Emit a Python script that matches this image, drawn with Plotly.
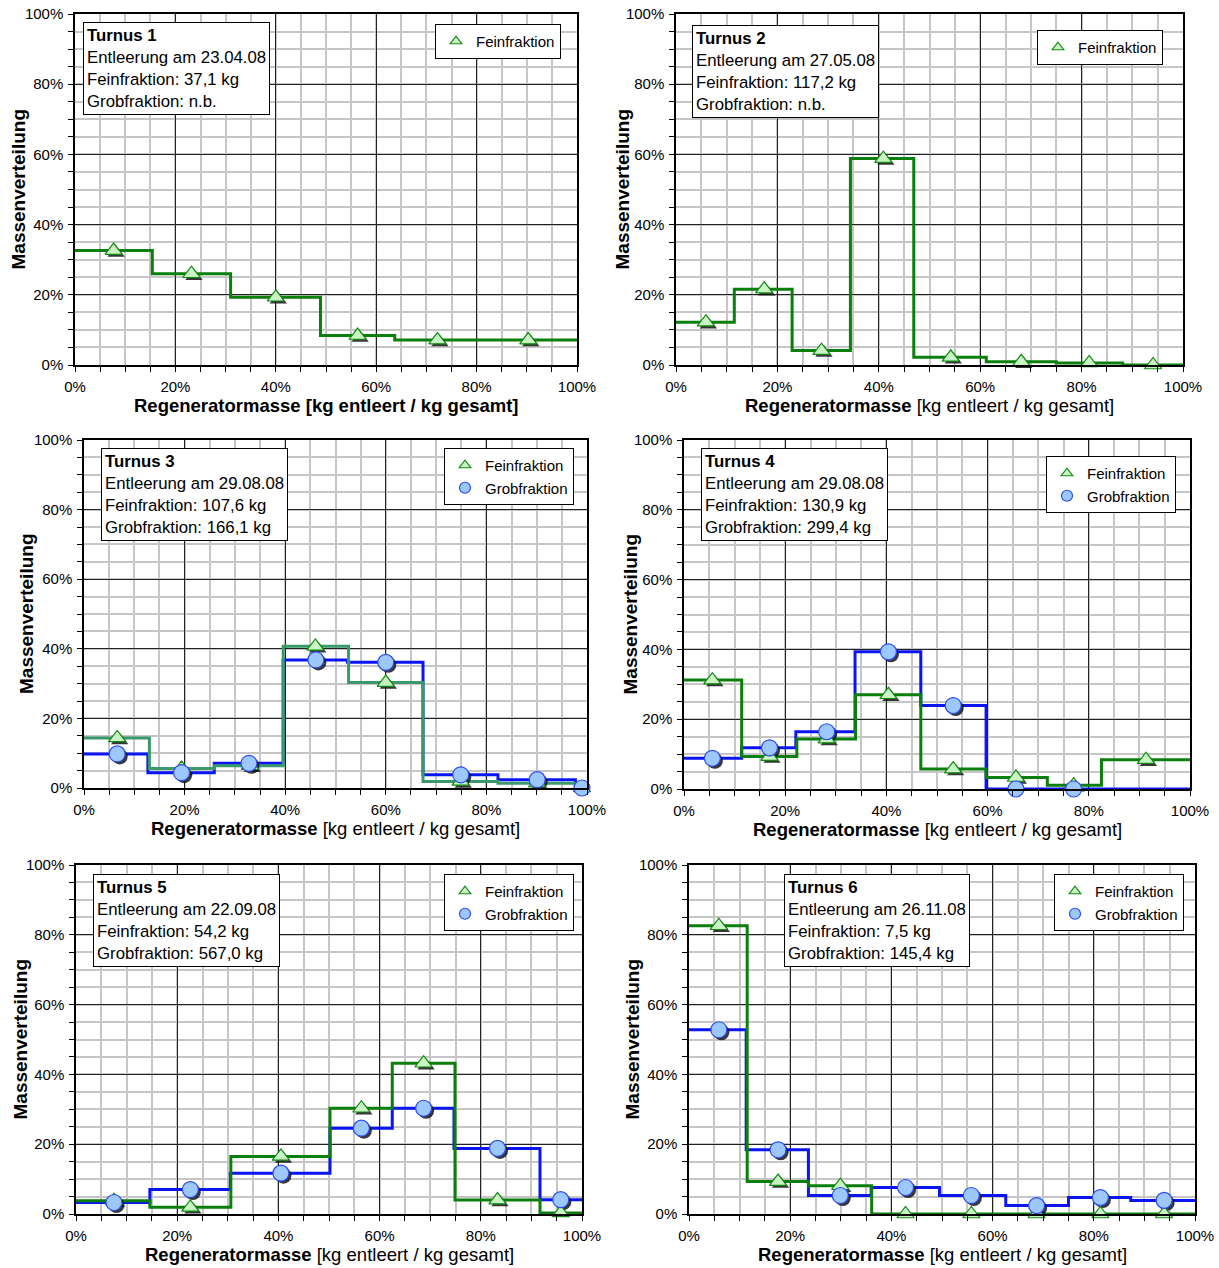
import plotly.graph_objects as go

# ---------------- data ----------------
X_TICKS = [0, 20, 40, 60, 80, 100]
X_TICKTEXT = ["0%", "20%", "40%", "60%", "80%", "100%"]
Y_TICKS = [0, 20, 40, 60, 80, 100]
Y_TICKTEXT = ["0%", "20%", "40%", "60%", "80%", "100%"]

TURNUS = ["Turnus 1", "Turnus 2", "Turnus 3", "Turnus 4", "Turnus 5", "Turnus 6"]
DATES = ["23.04.08", "27.05.08", "29.08.08", "29.08.08", "22.09.08", "26.11.08"]
FEIN_KG = ["37,1 kg", "117,2 kg", "107,6 kg", "130,9 kg", "54,2 kg", "7,5 kg"]
GROB_KG = ["n.b.", "n.b.", "166,1 kg", "299,4 kg", "567,0 kg", "145,4 kg"]

SERIES_FEIN = "Feinfraktion"
SERIES_GROB = "Grobfraktion"
X_TITLE_BOLD = "Regeneratormasse"
X_TITLE_REST = "[kg entleert / kg gesamt]"
Y_TITLE = "Massenverteilung"

# Turnus 1
T1_FEIN_EDGES = [0, 15.4, 31.0, 48.9, 63.7, 80.7, 100]
T1_FEIN_VALUES = [32.6, 26.0, 19.3, 8.4, 7.1, 7.1]
T1_FEIN_MX = [7.7, 23.2, 40.0, 56.3, 72.2, 90.3]
T1_FEIN_MY = [32.6, 26.0, 19.3, 8.4, 7.1, 7.1]

# Turnus 2
T2_FEIN_EDGES = [0, 11.5, 22.9, 34.4, 46.9, 61.2, 75.0, 88.1, 100]
T2_FEIN_VALUES = [12.2, 21.6, 4.1, 58.8, 2.2, 0.9, 0.6, 0.0]
T2_FEIN_MX = [5.9, 17.4, 28.7, 40.9, 54.2, 68.1, 81.5, 94.1]
T2_FEIN_MY = [12.2, 21.6, 4.1, 58.8, 2.2, 0.9, 0.6, 0.0]

# Turnus 3
T3_FEIN_EDGES = [0, 13.0, 25.9, 39.6, 52.6, 67.4, 82.3, 97.7, 100]
T3_FEIN_VALUES = [14.4, 5.6, 6.4, 40.7, 30.3, 1.9, 1.4, 0.0]
T3_FEIN_MX = [6.6, 19.4, 33.0, 46.0, 60.0, 74.9, 90.1, 99.0]
T3_FEIN_MY = [14.4, 5.6, 6.4, 40.7, 30.3, 1.9, 1.4, 0.0]
T3_GROB_EDGES = [0, 12.7, 25.9, 39.6, 52.4, 67.4, 82.3, 97.7, 100]
T3_GROB_VALUES = [9.8, 4.4, 7.1, 36.8, 36.1, 3.8, 2.4, 0.0]
T3_GROB_MX = [6.6, 19.4, 32.8, 46.1, 60.0, 74.9, 90.1, 99.0]
T3_GROB_MY = [9.8, 4.4, 7.1, 36.8, 36.1, 3.8, 2.4, 0.0]

# Turnus 4
T4_FEIN_EDGES = [0, 11.4, 22.3, 33.9, 46.8, 59.7, 71.8, 82.5, 100]
T4_FEIN_VALUES = [31.2, 9.3, 14.3, 27.0, 5.7, 3.3, 1.1, 8.4]
T4_FEIN_MX = [5.6, 16.9, 28.2, 40.4, 53.2, 65.6, 77.0, 91.3]
T4_FEIN_MY = [31.2, 9.3, 14.3, 27.0, 5.7, 3.3, 1.1, 8.4]
T4_GROB_EDGES = [0, 11.4, 22.1, 33.8, 46.8, 59.7, 71.8, 82.5, 100]
T4_GROB_VALUES = [8.8, 11.8, 16.4, 39.3, 23.9, 0.0, 0.0, 0.0]
T4_GROB_MX = [5.6, 16.9, 28.2, 40.4, 53.2, 65.6, 77.0]
T4_GROB_MY = [8.8, 11.8, 16.4, 39.3, 23.9, 0.0, 0.0]

# Turnus 5
T5_FEIN_EDGES = [0, 14.6, 30.6, 50.2, 62.5, 74.9, 91.7, 100]
T5_FEIN_VALUES = [3.8, 1.9, 16.5, 30.3, 43.2, 4.0, 0.3]
T5_FEIN_MX = [7.5, 22.6, 40.5, 56.4, 68.7, 83.3, 95.8]
T5_FEIN_MY = [3.8, 1.9, 16.5, 30.3, 43.2, 4.0, 0.3]
T5_GROB_EDGES = [0, 14.6, 30.5, 50.2, 62.5, 74.7, 91.7, 100]
T5_GROB_VALUES = [3.3, 7.0, 11.7, 24.6, 30.3, 18.8, 4.1]
T5_GROB_MX = [7.5, 22.6, 40.5, 56.4, 68.7, 83.3, 95.8]
T5_GROB_MY = [3.3, 7.0, 11.7, 24.6, 30.3, 18.8, 4.1]

# Turnus 6
T6_FEIN_EDGES = [0, 11.5, 23.6, 36.1, 49.5, 62.6, 75.0, 87.3, 100]
T6_FEIN_VALUES = [82.6, 9.3, 8.1, 0.0, 0.0, 0.0, 0.0, 0.0]
T6_FEIN_MX = [5.9, 17.6, 29.9, 42.8, 55.8, 68.7, 81.3, 93.9]
T6_FEIN_MY = [82.6, 9.3, 8.1, 0.0, 0.0, 0.0, 0.0, 0.0]
T6_GROB_EDGES = [0, 11.3, 23.6, 36.0, 49.5, 62.6, 75.0, 87.3, 100]
T6_GROB_VALUES = [52.8, 18.4, 5.3, 7.6, 5.3, 2.4, 4.7, 3.9]
T6_GROB_MX = [5.9, 17.6, 29.9, 42.8, 55.8, 68.7, 81.3, 93.9]
T6_GROB_MY = [52.8, 18.4, 5.3, 7.6, 5.3, 2.4, 4.7, 3.9]

PANELS = [
    dict(fein=(T1_FEIN_EDGES, T1_FEIN_VALUES, T1_FEIN_MX, T1_FEIN_MY), grob=None),
    dict(fein=(T2_FEIN_EDGES, T2_FEIN_VALUES, T2_FEIN_MX, T2_FEIN_MY), grob=None),
    dict(fein=(T3_FEIN_EDGES, T3_FEIN_VALUES, T3_FEIN_MX, T3_FEIN_MY),
         grob=(T3_GROB_EDGES, T3_GROB_VALUES, T3_GROB_MX, T3_GROB_MY)),
    dict(fein=(T4_FEIN_EDGES, T4_FEIN_VALUES, T4_FEIN_MX, T4_FEIN_MY),
         grob=(T4_GROB_EDGES, T4_GROB_VALUES, T4_GROB_MX, T4_GROB_MY)),
    dict(fein=(T5_FEIN_EDGES, T5_FEIN_VALUES, T5_FEIN_MX, T5_FEIN_MY),
         grob=(T5_GROB_EDGES, T5_GROB_VALUES, T5_GROB_MX, T5_GROB_MY)),
    dict(fein=(T6_FEIN_EDGES, T6_FEIN_VALUES, T6_FEIN_MX, T6_FEIN_MY),
         grob=(T6_GROB_EDGES, T6_GROB_VALUES, T6_GROB_MX, T6_GROB_MY)),
]

# ---------------- layout / style ----------------
W, H = 1219, 1268
FONT = "Liberation Sans, Arial, Helvetica, sans-serif"
# plot boxes in pixels: left, top, right, bottom
BOXES = [(75, 14, 577, 365), (676, 14, 1183, 365),
         (84, 440, 587, 788), (684, 440, 1190, 789),
         (76, 865, 582, 1214), (689, 865, 1195, 1214)]
YTITLE_OFF = [57, 54, 58, 54, 56, 57]
INFO_POS = [(83, 22), (692, 25), (101, 448), (701, 448), (93, 874), (784, 874)]
LEGEND_POS = [(561, 24), (1163, 30), (574, 448), (1176, 456), (574, 874), (1184, 874)]
FEIN_LINE = ["#0b7f0b", "#0b7f0b", "#3a9a6c", "#0b7f0b", "#0b7f0b", "#0b7f0b"]
GROB_LINE = "#0a14f5"
FEIN_FILL, FEIN_EDGE = "#c9f5c4", "#118a11"
GROB_FILL, GROB_EDGE = "#9cc8ff", "#2a4cf0"
SHADOW_PX = 2.5

fig = go.Figure()
layout = dict(template="none", width=W, height=H,
              margin=dict(l=0, r=0, t=0, b=0, pad=0, autoexpand=False),
              paper_bgcolor="white", plot_bgcolor="rgba(0,0,0,0)",
              font=dict(family=FONT, color="black"), showlegend=True)
annotations = []

for i, panel in enumerate(PANELS):
    n = i + 1
    sfx = "" if n == 1 else str(n)
    ssfx = str(n + 6)     # shadow overlay axes
    msfx = str(n + 12)    # marker overlay axes
    xa, ya = "x" + sfx, "y" + sfx
    xs, ys = "x" + ssfx, "y" + ssfx
    xm, ym = "x" + msfx, "y" + msfx
    l, t, r, b = BOXES[i]
    common = dict(showline=True, linecolor="black", linewidth=1.5, mirror=True,
                  zeroline=False, showgrid=True, gridcolor="#222222", gridwidth=1,
                  ticks="outside", ticklen=5, tickcolor="black", tickwidth=1,
                  ticklabelstandoff=2,
                  tickfont=dict(family=FONT, size=15, color="black"),
                  minor=dict(dtick=5, showgrid=True, gridcolor="#c6c6c6", gridwidth=1.5,
                             ticks="outside", ticklen=5, tickcolor="black", tickwidth=1),
                  range=[0, 100], fixedrange=True, automargin=False)
    layout["xaxis" + sfx] = dict(common, domain=[l / W, r / W], anchor=ya,
                                 tickmode="array", tickvals=X_TICKS, ticktext=X_TICKTEXT)
    layout["yaxis" + sfx] = dict(common, domain=[1 - b / H, 1 - t / H], anchor=xa,
                                 tickmode="array", tickvals=Y_TICKS, ticktext=Y_TICKTEXT)
    # invisible overlay axes: shadow (shifted a few pixels right/down) and markers
    dx = 100 * SHADOW_PX / (r - l)
    dy = 100 * SHADOW_PX / (b - t)
    hidden = dict(visible=False, fixedrange=True, automargin=False, showgrid=False, zeroline=False)
    layout["xaxis" + ssfx] = dict(hidden, overlaying=xa, anchor=ys, range=[-dx, 100 - dx])
    layout["yaxis" + ssfx] = dict(hidden, overlaying=ya, anchor=xs, range=[dy, 100 + dy])
    layout["xaxis" + msfx] = dict(hidden, overlaying=xa, anchor=ym, range=[0, 100])
    layout["yaxis" + msfx] = dict(hidden, overlaying=ya, anchor=xm, range=[0, 100])

    leg = "legend" + sfx
    lx, ly = LEGEND_POS[i]
    layout[leg] = dict(x=lx / W, y=1 - ly / H, xanchor="right", yanchor="top",
                       bgcolor="white", bordercolor="black", borderwidth=1,
                       font=dict(family=FONT, size=15, color="black"),
                       itemwidth=30, tracegroupgap=0, traceorder="normal",
                       itemsizing="trace")

    fe, fv, fmx, fmy = panel["fein"]
    grob = panel["grob"]
    # step lines on the base axes
    if grob is not None:
        ge, gv, gmx, gmy = grob
        fig.add_trace(go.Scatter(x=ge, y=list(gv) + [gv[-1]], mode="lines", line_shape="hv",
                                 line=dict(color=GROB_LINE, width=3), xaxis=xa, yaxis=ya,
                                 showlegend=False, hoverinfo="skip", cliponaxis=False))
    fig.add_trace(go.Scatter(x=fe, y=list(fv) + [fv[-1]], mode="lines", line_shape="hv",
                             line=dict(color=FEIN_LINE[i], width=3), xaxis=xa, yaxis=ya,
                             showlegend=False, hoverinfo="skip", cliponaxis=False))
    # marker shadows
    fig.add_trace(go.Scatter(x=fmx, y=fmy, mode="markers", showlegend=False, hoverinfo="skip",
                             marker=dict(symbol="triangle-up", size=15, color="rgba(20,20,20,0.85)",
                                         line=dict(width=0)),
                             xaxis=xs, yaxis=ys, cliponaxis=False))
    if grob is not None:
        fig.add_trace(go.Scatter(x=gmx, y=gmy, mode="markers", showlegend=False, hoverinfo="skip",
                                 marker=dict(symbol="circle", size=16, color="rgba(20,20,20,0.85)",
                                             line=dict(width=0)),
                                 xaxis=xs, yaxis=ys, cliponaxis=False))
    # markers
    fig.add_trace(go.Scatter(x=fmx, y=fmy, mode="markers", name=SERIES_FEIN,
                             marker=dict(symbol="triangle-up", size=15, color=FEIN_FILL,
                                         line=dict(color=FEIN_EDGE, width=1.2)),
                             xaxis=xm, yaxis=ym, showlegend=False, cliponaxis=False))
    if grob is not None:
        fig.add_trace(go.Scatter(x=gmx, y=gmy, mode="markers", name=SERIES_GROB,
                                 marker=dict(symbol="circle", size=16, color=GROB_FILL,
                                             line=dict(color=GROB_EDGE, width=1.2)),
                                 xaxis=xm, yaxis=ym, showlegend=False, cliponaxis=False))
    # legend entries (smaller symbols, like the original legend)
    fig.add_trace(go.Scatter(x=[None], y=[None], mode="markers", name=SERIES_FEIN,
                             marker=dict(symbol="triangle-up", size=10, color=FEIN_FILL,
                                         line=dict(color=FEIN_EDGE, width=1.2)),
                             xaxis=xm, yaxis=ym, legend=leg, showlegend=True))
    if grob is not None:
        fig.add_trace(go.Scatter(x=[None], y=[None], mode="markers", name=SERIES_GROB,
                                 marker=dict(symbol="circle", size=11, color=GROB_FILL,
                                             line=dict(color=GROB_EDGE, width=1.2)),
                                 xaxis=xm, yaxis=ym, legend=leg, showlegend=True))

    # info box
    ix, iy = INFO_POS[i]
    info = (f"<b>{TURNUS[i]}</b><br>Entleerung am {DATES[i]}<br>"
            f"Feinfraktion: {FEIN_KG[i]}<br>Grobfraktion: {GROB_KG[i]}")
    annotations.append(dict(text=info, xref="paper", yref="paper", x=ix / W, y=1 - iy / H,
                            xanchor="left", yanchor="top", align="left", showarrow=False,
                            bgcolor="white", bordercolor="black", borderwidth=1, borderpad=3,
                            font=dict(family=FONT, size=16.8, color="black")))
    # axis titles
    if n == 1:
        xt = f"<b>{X_TITLE_BOLD} {X_TITLE_REST}</b>"
    else:
        xt = f"<b>{X_TITLE_BOLD}</b> {X_TITLE_REST}"
    annotations.append(dict(text=xt, xref=xa + " domain", yref=ya + " domain", x=0.5, y=0,
                            yshift=-40, xanchor="center", yanchor="middle", showarrow=False,
                            font=dict(family=FONT, size=18.5, color="black")))
    annotations.append(dict(text=f"<b>{Y_TITLE}</b>", xref=xa + " domain", yref=ya + " domain",
                            x=0, y=0.5, xshift=-YTITLE_OFF[i], xanchor="center", yanchor="middle",
                            textangle=-90, showarrow=False,
                            font=dict(family=FONT, size=19, color="black")))

layout["annotations"] = annotations
fig.update_layout(**layout)
fig.write_html("out.html", post_script="document.body.style.margin='0px';")
